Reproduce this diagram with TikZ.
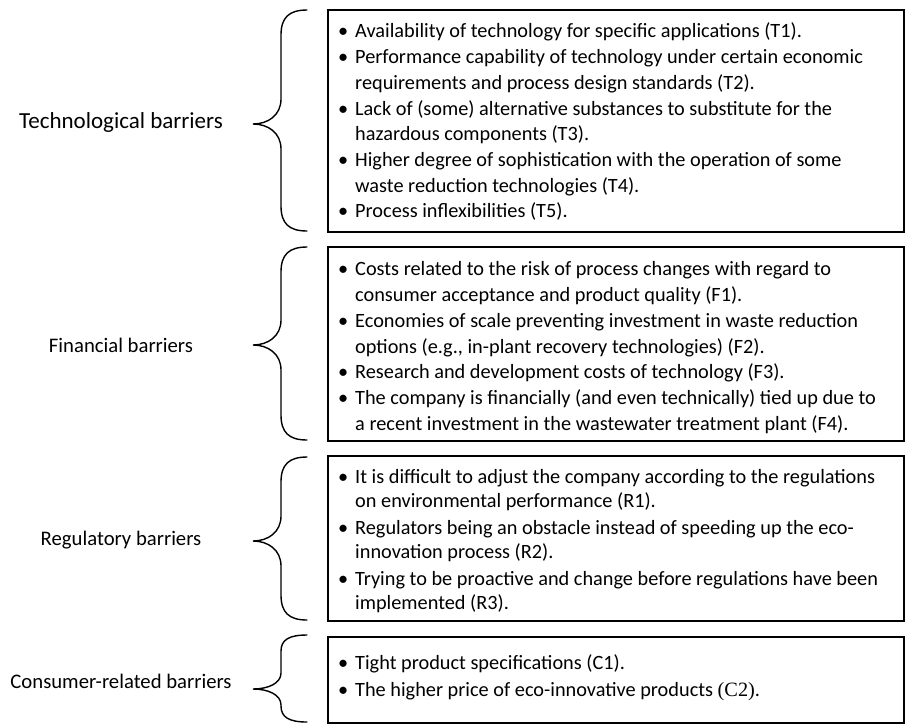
\documentclass[tikz,border=0pt]{standalone}
\usepackage{fontspec}
\setmainfont{Carlito}
\newfontfamily\serifc{Liberation Serif}
\newcommand\bitem[1]{\par\hangindent=17pt\hangafter=1\noindent\makebox[17pt][l]{•}\rule{0pt}{15pt}#1\par}
% #1 top, #2 tip, #3 bottom, #4 bend length
\newcommand\brc[4]{%
  \draw[bracestyle] (307,#1) .. controls (289,#1) and (281,#1+#4*0.3) .. (281,#1+#4) -- (281,#2-#4)
    .. controls (281,#2-#4*0.35) and (268,#2) .. (253,#2)
    .. controls (268,#2) and (281,#2+#4*0.35) .. (281,#2+#4) -- (281,#3-#4)
    .. controls (281,#3-#4*0.3) and (289,#3) .. (307,#3);}
\begin{document}
\begin{tikzpicture}[x=1pt,y=-1pt,
  barbox/.style={draw, line width=1.6pt, inner sep=0pt, anchor=north west},
  itemtext/.style={anchor=north west, inner sep=0pt, text width=640pt, align=none,
    font=\fontsize{20.3}{25.7}\selectfont, execute at begin node={\raggedright\hyphenpenalty=10000\parskip=0pt}},
  cat/.style={font=\fontsize{20.7}{24}\selectfont},
  bracestyle/.style={line width=1.4pt, line cap=round}]
\useasboundingbox (0,0) rectangle (907,724);
\fill[white] (0,0) rectangle (907,724);

% boxes
\node[barbox, minimum width=576pt, minimum height=222pt] (b1) at (327,9) {};
\node[barbox, minimum width=576pt, minimum height=194pt] (b2) at (327,246) {};
\node[barbox, minimum width=576pt, minimum height=165pt] (b3) at (327,455) {};
\node[barbox, minimum width=576pt, minimum height=86pt] (b4) at (327,636) {};

% box texts
\node[itemtext] (t1) at (338,12) {%
\bitem{Availability of technology for specific applications (T1).}
\bitem{Performance capability of technology under certain economic\newline requirements and process design standards (T2).}
\bitem{Lack of (some) alternative substances to substitute for the\newline hazardous components (T3).}
\bitem{Higher degree of sophistication with the operation of some\newline waste reduction technologies (T4).}
\bitem{Process inflexibilities (T5).}};

\node[itemtext] (t2) at (338,250) {%
\bitem{Costs related to the risk of process changes with regard to\newline consumer acceptance and product quality (F1).}
\bitem{Economies of scale preventing investment in waste reduction\newline options (e.g., in-plant recovery technologies) (F2).}
\bitem{Research and development costs of technology (F3).}
\bitem{The company is financially (and even technically) tied up due to\newline a recent investment in the wastewater treatment plant (F4).}};

\node[itemtext, font=\fontsize{20.3}{23.5}\selectfont] (t3) at (338,456) {\parskip=4pt%
\bitem{It is difficult to adjust the company according to the regulations\newline on environmental performance (R1).}
\bitem{Regulators being an obstacle instead of speeding up the eco-\newline innovation process (R2).}
\bitem{Trying to be proactive and change before regulations have been\newline implemented (R3).}};

\node[itemtext, font=\fontsize{20.3}{27}\selectfont] (t4) at (338,642) {%
\bitem{Tight product specifications (C1).}
\bitem{The higher price of eco-innovative products {\serifc(C2)}.}};

% category labels
\node[cat, font=\fontsize{23}{27}\selectfont] (c1) at (121,122) {Technological barriers};
\node[cat] (c2) at (121,345) {Financial barriers};
\node[cat] (c3) at (121,540) {Regulatory barriers};
\node[cat] (c4) at (121,681) {Consumer-related barriers};

% braces
\brc{10}{124}{231}{25}
\brc{247}{345}{440}{25}
\brc{457}{541}{620}{25}
\brc{635}{689}{722}{16}
\end{tikzpicture}
\end{document}
